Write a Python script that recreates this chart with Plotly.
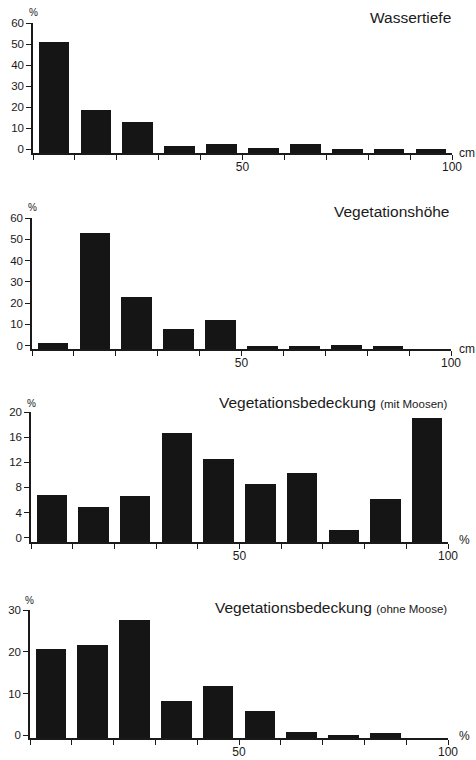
import plotly.graph_objects as go

W, H = 476, 760

bin_centers = [5, 15, 25, 35, 45, 55, 65, 75, 85, 95]
x_tick_vals = [0, 10, 20, 30, 40, 50, 60, 70, 80, 90, 100]
x_tick_text = ["", "", "", "", "", "50", "", "", "", "", "100"]

wassertiefe = [51, 18.5, 12.7, 1.4, 2.3, 0.3, 2.5, 0, 0.1, 0]
vegetationshoehe = [1, 53, 22.8, 7.8, 12.1, 0, 0, 0.3, 0, None]
bedeckung_mit = [6.8, 4.9, 6.6, 16.7, 12.6, 8.5, 10.3, 1.2, 6.1, 19.0]
bedeckung_ohne = [20.7, 21.7, 27.5, 8.1, 11.9, 5.7, 0.7, 0, 0.5, None]

titles = ["Wassertiefe", "Vegetationshöhe",
          "Vegetationsbedeckung <span style='font-size:11.5px'>(mit Moosen)</span>",
          "Vegetationsbedeckung <span style='font-size:11.5px'>(ohne Moose)</span>"]
units = ["cm", "cm", "%", "%"]
y_ticks = [[0, 10, 20, 30, 40, 50, 60], [0, 10, 20, 30, 40, 50, 60],
           [0, 4, 8, 12, 16, 20], [0, 10, 20, 30]]
series = [wassertiefe, vegetationshoehe, bedeckung_mit, bedeckung_ohne]

# panel geometry in window pixels: (x_left, x_right, y_bottom(axis line), y_top, ymin, ymax)
panels = [
    (33, 452, 153, 23, -1.9, 60),
    (32, 451, 349, 218, -1.6, 60),
    (31, 448, 542, 412, -0.68, 20),
    (30, 448, 738, 610, -0.65, 30),
]
title_y = [17, 211, 402, 607]
pct_pos = [(33, 13), (32, 207), (31, 403), (29, 600)]
unit_y = [153, 349, 540, 736]


def fx(px):
    return px / W


def fy(py):
    return 1 - py / H


FONT = "Liberation Sans, Arial, Helvetica, sans-serif"
INK = "#1a1a1a"
fig = go.Figure()
annotations = []
layout = dict(width=W, height=H, margin=dict(l=0, r=0, t=0, b=0, pad=0, autoexpand=False),
              paper_bgcolor="white", plot_bgcolor="white", showlegend=False,
              font=dict(family=FONT, color=INK, size=11), bargap=0)

for i, (vals, (xl, xr, yb, yt, ymin, ymax)) in enumerate(zip(series, panels)):
    n = i + 1
    xa = "x" if n == 1 else f"x{n}"
    ya = "y" if n == 1 else f"y{n}"
    yv = [None if v is None else v - ymin for v in vals]
    fig.add_trace(go.Bar(x=bin_centers, y=yv, base=ymin, width=7.3,
                         marker=dict(color="#151515", line=dict(width=0)),
                         xaxis=xa, yaxis=ya))
    xkey = "xaxis" if n == 1 else f"xaxis{n}"
    ykey = "yaxis" if n == 1 else f"yaxis{n}"
    layout[xkey] = dict(domain=[fx(xl), fx(xr)], range=[0, 100], anchor=ya,
                        showgrid=False, zeroline=False, showline=True, automargin=False,
                        linecolor=INK, linewidth=1.5,
                        ticks="outside", ticklen=5, tickwidth=1.3, tickcolor=INK,
                        tickvals=x_tick_vals, ticktext=x_tick_text, ticklabelstandoff=-3,
                        tickfont=dict(size=12, family=FONT), fixedrange=True)
    layout[ykey] = dict(domain=[fy(yb), fy(yt)], range=[ymin, ymax], anchor=xa,
                        showgrid=False, zeroline=False, showline=True, automargin=False,
                        linecolor=INK, linewidth=1.5,
                        ticks="outside", ticklen=5, tickwidth=1.3, tickcolor=INK,
                        tickvals=y_ticks[i], tickfont=dict(size=11.5, family=FONT),
                        fixedrange=True)
    annotations.append(dict(text=titles[i], xref="paper", yref="paper",
                            x=fx(xr + 1), y=fy(title_y[i]),
                            xanchor="right", yanchor="middle", showarrow=False,
                            font=dict(size=15.5, family=FONT, color=INK)))
    annotations.append(dict(text="%", xref="paper", yref="paper",
                            x=fx(pct_pos[i][0]), y=fy(pct_pos[i][1]),
                            xanchor="center", yanchor="middle", showarrow=False,
                            font=dict(size=10, family=FONT, color=INK)))
    annotations.append(dict(text=units[i], xref="paper", yref="paper",
                            x=fx(457), y=fy(unit_y[i]),
                            xanchor="left", yanchor="middle", showarrow=False,
                            font=dict(size=12, family=FONT, color=INK)))

layout["annotations"] = annotations
fig.update_layout(**layout)
fig.write_html("out.html", config={"displayModeBar": False, "staticPlot": False},
               post_script="document.body.style.margin='0';document.body.style.overflow='hidden';")
